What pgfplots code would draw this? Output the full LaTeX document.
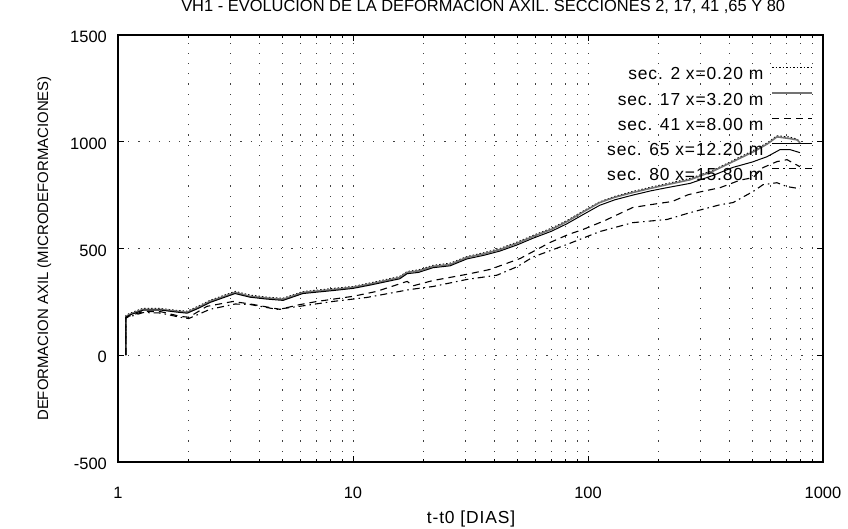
\documentclass[border=0pt]{standalone}
\usepackage{fontspec}
\setmainfont{Liberation Sans}
\newfontfamily\spaced[LetterSpace=5]{Liberation Sans}
\usepackage{pgfplots}
\pgfplotsset{compat=1.18}
\begin{document}
\begin{tikzpicture}
\useasboundingbox (-118bp,-67bp) rectangle (730bp,462bp);
\begin{axis}[
  at={(0,0)}, anchor=south west,
  scale only axis, width=705bp, height=427bp,
  xmode=log, xmin=1, xmax=1000, ymin=-500, ymax=1500,
  xtick={1,10,100,1000}, xticklabels={1,10,100,1000},
  minor xtick={2,3,4,5,6,7,8,9,20,30,40,50,60,70,80,90,200,300,400,500,600,700,800,900},
  ytick={-500,0,500,1000,1500}, yticklabels={-500,0,500,1000,1500},
  axis line style={black, line width=1.2bp},
  tick style={black, line width=0.8bp},
  major tick length=6bp, minor tick length=3.5bp,
  xmajorgrids=true, xminorgrids=true, ymajorgrids=true,
  major grid style={black!75, line width=0.9bp, dash pattern=on 1.2bp off 9bp},
  minor grid style={black!75, line width=0.9bp, dash pattern=on 1.2bp off 9bp},
  ticklabel style={font=\fontsize{16.5}{19}\selectfont},
  xticklabel style={inner sep=0pt, yshift=-25bp},
  yticklabel style={inner sep=0pt, xshift=-11bp, yshift=-2bp},
  title={VH1 - EVOLUCION DE LA DEFORMACION AXIL. SECCIONES 2, 17, 41 ,65 Y 80},
  title style={at={(rel axis cs:0.518,1.040)}, anchor=base, inner sep=0pt, font=\fontsize{16.5}{19}\selectfont},
  xlabel={t-t0 [DIAS]},
  xlabel style={at={(rel axis cs:0.5007,-0.143)}, anchor=base, inner sep=0pt, font=\fontsize{17.5}{20}\selectfont\spaced},
  ylabel={DEFORMACION AXIL (MICRODEFORMACIONES)},
  ylabel style={at={(rel axis cs:-0.099,0.5)}, anchor=base, inner sep=0pt, font=\fontsize{15}{18}\selectfont},
  legend plot pos=right, legend cell align=right,
  legend image code/.code={\draw[#1] (0bp,6bp) -- (40bp,6bp);},
  legend style={at={(rel axis cs:1,1)}, anchor=north east, xshift=-10bp, yshift=-32bp,
    draw=none, fill=none, inner sep=0pt, outer sep=0pt,
    font=\fontsize{17.5}{20}\selectfont\spaced,
    nodes={inner sep=0pt, text height=12.7bp, text depth=0bp},
    row sep=12.3bp, column sep=8bp},
]
% sec. 2 (dotted)
\addplot[black, line width=1bp, dash pattern=on 1.5bp off 2bp] coordinates {
(1.08,0)(1.08,186)(1.125,197)(1.28,220)(1.51,219)(1.78,210)(1.97,206)(2.2,230)(2.46,257)(3.15,299)(3.64,282)(4.3,272)(5.04,267)(6.12,298)(8.22,313)(10,322)(12,340)(15.8,369)(17,392)(19,400)(21.9,421)(25.9,431)(30.5,462)(36,480)(42.2,500)(50,530)(58.3,561)(70,595)(81.4,631)(95,674)(112,718)(130,744)(155,767)(185,787)(217,804)(272,828)(340,866)(414,912)(520,966)(580,995)(637,1028)(720,1022)(775,1012)(798,1000)};
\addlegendentry{sec. 2 x=0.20 m}
% sec. 17 (grey)
\addplot[black!55, line width=1.6bp] coordinates {
(1.08,0)(1.08,182)(1.125,192)(1.28,215)(1.51,215)(1.78,206)(1.97,201)(2.2,225)(2.46,252)(3.15,294)(3.64,276)(4.3,268)(5.04,262)(6.12,294)(8.22,308)(10,318)(12,335)(15.8,364)(17,388)(19,395)(21.9,416)(25.9,425)(30.5,458)(36,475)(42.2,495)(50,525)(58.3,556)(70,590)(81.4,626)(95,670)(112,715)(130,740)(155,762)(185,782)(217,799)(272,822)(340,862)(414,907)(520,960)(580,990)(637,1023)(720,1015)(775,1009)(798,995)};
\addlegendentry{sec. 17 x=3.20 m}
% sec. 41 (dashed)
\addplot[black, line width=1.1bp, dash pattern=on 7bp off 5bp] coordinates {
(1.08,0)(1.08,178)(1.28,205)(1.51,205)(1.84,182)(2.0,178)(2.39,229)(3.09,252)(3.75,238)(4.89,215)(5.8,235)(7.03,252)(10,276)(12.6,299)(17,346)(18,325)(21.9,350)(30.5,379)(38.3,402)(51.4,453)(68.9,528)(82.2,565)(95.2,589)(118,631)(155,692)(197,710)(228,720)(267,752)(300,765)(365,785)(443,820)(504,832)(556,879)(637,907)(703,916)(798,883)};
\addlegendentry{sec. 41 x=8.00 m}
% sec. 65 (solid)
\addplot[black, line width=1bp] coordinates {
(1.08,0)(1.08,178)(1.125,189)(1.28,211)(1.51,212)(1.78,202)(1.97,197)(2.2,220)(2.46,247)(3.15,289)(3.64,272)(4.3,263)(5.04,257)(6.12,289)(8.22,303)(10,313)(12,330)(15.8,358)(17,382)(19,388)(21.9,410)(25.9,419)(30.5,451)(36,468)(42.2,488)(50,517)(58.3,548)(70,581)(81.4,616)(95,658)(112,702)(130,728)(155,750)(185,770)(217,785)(272,805)(340,842)(414,880)(500,905)(578,930)(656,963)(725,963)(798,949)};
\addlegendentry{sec. 65 x=12.20 m}
% sec. 80 (dash-dot)
\addplot[black, line width=1.1bp, dash pattern=on 7bp off 4bp on 1.5bp off 4bp] coordinates {
(1.08,0)(1.08,175)(1.28,200)(1.51,198)(1.84,178)(2.0,172)(2.46,215)(3.15,240)(3.64,238)(4.74,215)(6.0,230)(8.22,252)(11.5,271)(17.5,308)(21.9,322)(30.5,355)(41,375)(50,415)(58.3,460)(81.4,519)(112,579)(155,621)(217,636)(272,668)(365,705)(414,715)(504,767)(556,799)(637,808)(703,790)(798,780)};
\addlegendentry{sec. 80 x=15.80 m}
\end{axis}
\end{tikzpicture}
\end{document}
